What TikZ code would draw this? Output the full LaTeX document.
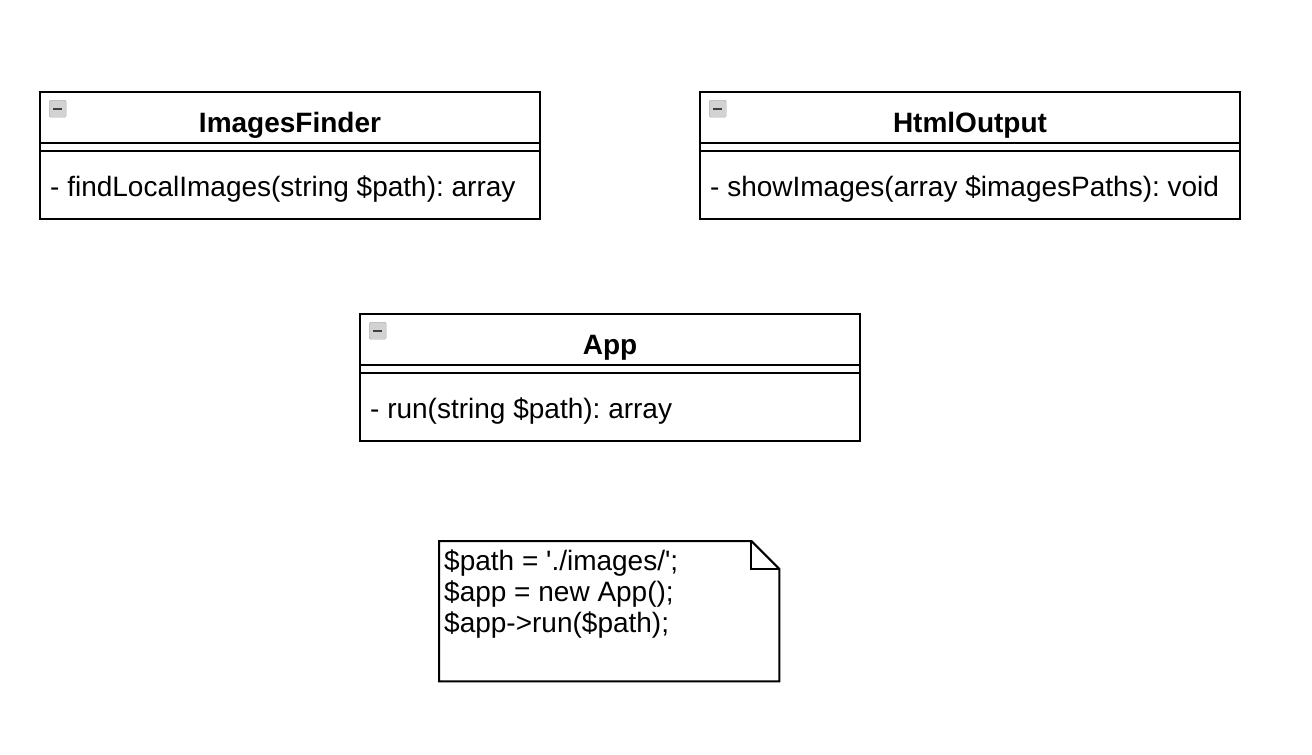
\documentclass[tikz,border=0pt]{standalone}
\usepackage{fontspec}
\setmainfont{Liberation Sans}
\usetikzlibrary{positioning}
\frenchspacing

\begin{document}
\begin{tikzpicture}[
  x=1pt, y=-1pt,
  classbox/.style={rectangle, draw=black, line width=2pt, anchor=north west, minimum height=127pt, inner sep=0pt},
  classname/.style={font=\fontsize{28}{33}\selectfont\bfseries, anchor=base, inner sep=0pt},
  member/.style={font=\fontsize{28}{33}\selectfont, anchor=base west, inner sep=0pt},
  icon/.style={rectangle, rounded corners=1.5pt, draw=gray!70, fill=gray!35, minimum size=17pt, inner sep=0pt},
  minus/.style={line width=2.4pt, draw=black!75},
  sep/.style={line width=2pt}
]
\useasboundingbox (0,0) rectangle (1312,755);

% Classes
\node (finder) [classbox, minimum width=500pt] at (39,91) {};
\node (output) [classbox, minimum width=540pt] at (699,91) {};
\node (app) [classbox, minimum width=500pt] at (359,313) {};

% Collapse icons
\node (finderIcon) [icon, below right=9pt and 10pt of finder.north west] {};
\node (outputIcon) [icon, below right=9pt and 10pt of output.north west] {};
\node (appIcon) [icon, below right=9pt and 10pt of app.north west] {};
\draw [minus] ([xshift=4pt]finderIcon.west) -- ([xshift=-4pt]finderIcon.east);
\draw [minus] ([xshift=4pt]outputIcon.west) -- ([xshift=-4pt]outputIcon.east);
\draw [minus] ([xshift=4pt]appIcon.west) -- ([xshift=-4pt]appIcon.east);

% Names
\node (finderName) [classname] at ([yshift=-41pt]finder.north) {ImagesFinder};
\node (outputName) [classname] at ([yshift=-41pt]output.north) {HtmlOutput};
\node (appName) [classname] at ([yshift=-41pt]app.north) {App};

% Separators (empty attribute compartment)
\draw [sep] ([yshift=-51.5pt]finder.north west) -- ([yshift=-51.5pt]finder.north east);
\draw [sep] ([yshift=-59.5pt]finder.north west) -- ([yshift=-59.5pt]finder.north east);
\draw [sep] ([yshift=-51.5pt]output.north west) -- ([yshift=-51.5pt]output.north east);
\draw [sep] ([yshift=-59.5pt]output.north west) -- ([yshift=-59.5pt]output.north east);
\draw [sep] ([yshift=-51.5pt]app.north west) -- ([yshift=-51.5pt]app.north east);
\draw [sep] ([yshift=-59.5pt]app.north west) -- ([yshift=-59.5pt]app.north east);

% Operations
\node (finderOp) [member] at ([xshift=11pt, yshift=-105pt]finder.north west) {- findLocalImages(string \$path): array};
\node (outputOp) [member] at ([xshift=11pt, yshift=-105pt]output.north west) {- showImages(array \$imagesPaths): void};
\node (appOp) [member] at ([xshift=11pt, yshift=-105pt]app.north west) {- run(string \$path): array};

% Note
\node (note) [anchor=north west, minimum width=340pt, minimum height=140pt, inner sep=0pt] at (439,541) {};
\draw [sep] (note.north west) -- ([xshift=-28pt]note.north east) -- ([yshift=-28pt]note.north east)
  -- (note.south east) -- (note.south west) -- cycle;
\draw [sep] ([xshift=-28pt]note.north east) |- ([yshift=-28pt]note.north east);
\node (noteLineA) [member] at ([xshift=5pt, yshift=-29pt]note.north west) {\$path = \textquotesingle./images/\textquotesingle;};
\node (noteLineB) [member] at ([xshift=5pt, yshift=-60pt]note.north west) {\$app = new App();};
\node (noteLineC) [member] at ([xshift=5pt, yshift=-91pt]note.north west) {\$app->run(\$path);};
\end{tikzpicture}
\end{document}
